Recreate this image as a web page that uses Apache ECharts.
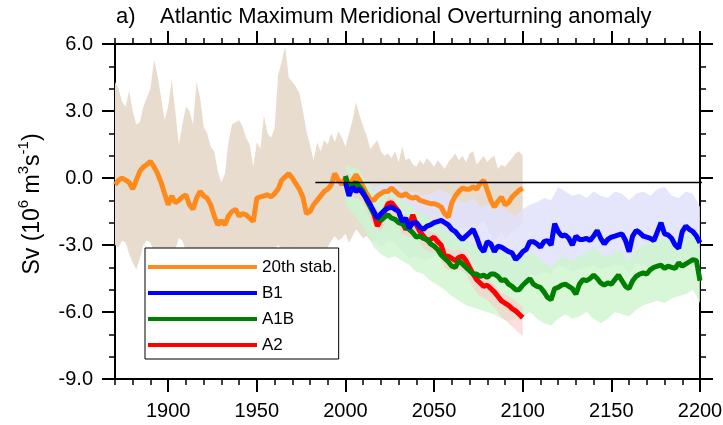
<!DOCTYPE html>
<html>
<head>
<meta charset="utf-8">
<script src="https://cdn.jsdelivr.net/npm/echarts@6/dist/echarts.min.js"></script>
<style>
  html, body { margin: 0; padding: 0; background: #fff; }
  #chart { width: 723px; height: 425px; }
</style>
</head>
<body>
<div id="chart"></div>
<script>
// ---- Time axes -------------------------------------------------------------
const stabStart = 1870, stabStep = 2;      // 20th-century stabilisation run, 1870-2100
const scenStart = 2000, scenStep = 2;      // scenario runs, 2000-2200
const bandStep = 4;                        // ensemble spread sampled every 4 years

// ---- Ensemble means (Sv) ---------------------------------------------------
const stab20 = [
  -0.3, -0.1, 0.0, -0.1, -0.2, -0.5, -0.1, 0.3, 0.5, 0.6,
  0.75, 0.5, 0.2, -0.2, -0.7, -1.2, -0.8, -1.1, -1.0, -0.85,
  -0.75, -1.2, -1.4, -0.9, -0.6, -0.8, -0.9, -1.2, -1.7, -2.1,
  -1.9, -2.1, -1.7, -1.5, -1.4, -1.7, -1.6, -1.65, -1.8, -1.95,
  -0.9, -0.85, -0.8, -0.75, -0.85, -0.7, -0.5, -0.1, 0.05, 0.2,
  0.0, -0.25, -0.5, -0.85, -1.6, -1.5, -1.2, -1.0, -0.8, -0.6,
  -0.5, -0.3, 0.2, -0.1, -0.3, 0.0, -0.3, -0.1, 0.15, -0.1,
  -0.4, -0.7, -0.95, -1.0, -0.8, -0.7, -0.6, -0.6, -0.45, -0.6,
  -0.75, -0.8, -0.7, -0.85, -0.9, -0.85, -1.0, -1.05, -1.1, -1.15,
  -1.15, -1.2, -1.3, -1.6, -1.75, -1.1, -0.8, -0.6, -0.45, -0.5,
  -0.5, -0.4, -0.5, -0.25, -0.1, -0.55, -1.0, -1.3, -1.05, -0.85,
  -1.2, -1.1, -0.85, -0.7, -0.55, -0.45
];
const b1 = [
  -0.2, -0.8, -0.4, -0.6, -0.5, -0.7, -0.95, -1.2, -1.5, -1.8,
  -1.6, -1.45, -1.35, -1.3, -1.4, -1.5, -1.95, -1.8, -2.25, -2.0,
  -2.0, -2.2, -2.3, -2.15, -2.1, -2.0, -1.95, -1.9, -2.0, -2.1,
  -2.3, -2.4, -2.6, -2.75, -2.6, -2.45, -2.3, -2.65, -3.1, -3.3,
  -2.85, -2.95, -3.3, -3.05, -3.1, -3.2, -3.3, -3.35, -3.65, -3.5,
  -3.3, -3.2, -2.85, -2.85, -2.95, -3.1, -2.85, -2.8, -3.0, -2.05,
  -2.4, -2.6, -2.55, -2.7, -3.0, -2.6, -2.75, -2.75, -2.7, -2.8,
  -2.6, -2.35, -2.7, -2.95, -2.75, -2.65, -2.6, -2.55, -2.5, -2.8,
  -3.3, -2.6, -2.35, -2.45, -2.6, -2.65, -2.7, -2.8, -2.4, -2.0,
  -2.5, -2.55, -2.7, -3.0, -3.15, -2.4, -2.15, -2.3, -2.4, -2.6,
  -2.9
];
const a1b = [
  0.1, -0.5, -0.3, -0.2, -0.4, -0.6, -1.0, -1.3, -1.6, -1.75,
  -1.9, -1.75, -1.65, -1.8, -1.85, -2.0, -2.05, -2.2, -2.3, -2.45,
  -2.65, -2.6, -2.7, -2.75, -2.95, -3.05, -3.2, -3.45, -3.6, -3.75,
  -3.95, -4.0, -3.7, -3.85, -4.0, -4.15, -4.3, -4.3, -4.4, -4.35,
  -4.45, -4.3, -4.3, -4.4, -4.6, -4.55, -4.75, -4.85, -5.0, -5.0,
  -4.8, -4.65, -4.5, -4.75, -4.85, -4.9, -5.1, -5.35, -5.45, -4.95,
  -4.9, -4.8, -4.75, -4.85, -4.95, -5.2, -4.75, -4.55, -4.6, -4.5,
  -4.35, -4.5, -4.7, -4.8, -4.7, -4.75, -4.55, -4.35, -4.6, -4.85,
  -4.95, -4.6, -4.4, -4.3, -4.25, -4.3, -4.1, -4.0, -3.95, -3.9,
  -4.05, -3.95, -4.0, -4.05, -3.8, -3.95, -3.85, -3.75, -3.65, -3.7,
  -4.6
];
const a2 = [
  0.0, -0.6, -0.3, -0.5, -0.4, -0.7, -0.9, -1.2, -1.6, -2.15,
  -1.85, -1.5, -1.15, -1.1, -1.3, -1.5, -1.95, -2.3, -2.1, -1.65,
  -2.1, -2.4, -2.6, -2.8, -2.75, -2.65, -2.85, -3.0, -3.5, -3.5,
  -3.6, -3.7, -3.55, -3.5, -3.7, -4.0, -4.3, -4.55, -4.7, -4.85,
  -4.8, -4.95, -5.1, -5.3, -5.5, -5.6, -5.7, -5.85, -5.95, -6.1,
  -6.25
];

// ---- Ensemble spread (upper / lower envelopes, Sv) -------------------------
const stab20Hi = [
  4.3, 4.0, 3.4, 3.2, 3.9, 3.0, 2.4, 2.5, 3.2, 3.6,
  4.0, 5.3, 4.6, 3.6, 2.6, 3.2, 4.4, 3.0, 1.5, 2.4,
  3.2, 3.0, 2.4, 4.3, 3.6, 2.3, 2.0, 1.4, 1.2, 0.3,
  -0.2, 0.2, 1.6, 2.4, 2.5, 2.6, 2.3, 1.8, 1.5, 0.5,
  1.6, 1.3, 2.8, 2.0, 1.8, 2.2, 4.6, 5.2, 5.9, 4.5,
  4.3, 4.1, 3.8, 3.0, 2.1, 1.5, 0.8, 1.6, 1.2, 1.7,
  1.5, 2.0, 1.6, 2.1, 1.8, 1.4, 2.0, 2.6, 3.4, 2.8,
  2.3, 1.9, 1.3, 1.5, 1.7, 1.2, 1.0, 1.1, 0.9, 1.2,
  0.7, 1.4, 0.8, 0.9, 0.6, 0.5, 0.8, 0.6, 0.9, 0.7,
  0.5, 0.8, 0.6, 0.4, 0.7, 0.9, 1.1, 0.8, 1.0, 0.7,
  1.1, 1.2, 0.6, 0.8, 1.0, 0.7, 0.9, 1.0, 0.4, 0.6,
  0.5, 0.7, 0.9, 1.1, 1.2, 1.0
];
const stab20Lo = [
  -3.0, -3.1, -2.8, -2.9, -3.4, -3.8, -4.1, -3.6, -3.0, -2.8,
  -2.9, -3.3, -3.5, -3.4, -3.6, -3.8, -3.5, -3.2, -2.7, -2.8,
  -3.3, -3.6, -3.8, -3.5, -3.3, -3.5, -3.7, -3.9, -4.3, -4.6,
  -4.5, -4.6, -4.3, -4.0, -3.8, -4.1, -4.0, -4.2, -4.3, -4.4,
  -3.5, -3.4, -3.3, -3.4, -3.5, -3.2, -3.0, -3.2, -3.3, -3.1,
  -3.2, -3.3, -3.5, -3.6, -3.9, -3.8, -3.6, -3.4, -3.3, -3.2,
  -3.1, -2.8, -2.6, -2.8, -2.7, -2.5, -2.9, -2.6, -2.3, -2.5,
  -2.7, -2.6, -2.8, -2.9, -2.7, -2.5, -2.3, -2.4, -2.2, -2.4,
  -2.5, -2.6, -2.4, -2.6, -2.4, -2.5, -2.6, -2.7, -2.8, -2.9,
  -2.9, -2.8, -3.0, -3.2, -3.3, -2.8, -2.5, -2.3, -2.2, -2.3,
  -2.2, -2.0, -2.2, -2.0, -1.9, -2.2, -2.6, -2.8, -2.6, -2.4,
  -2.7, -2.6, -2.4, -2.3, -2.2, -2.0
];
const b1Hi = [
  0.3, 0.4, 0.2, -0.2, -0.4, -0.3, -0.2, -0.3, -0.5, -0.6,
  -0.6, -0.8, -0.7, -0.5, -0.6, -0.8, -1.0, -1.1, -0.9, -1.3,
  -1.2, -1.4, -1.3, -1.5, -1.7, -1.4, -1.2, -1.1, -0.9, -1.0,
  -0.4, -0.6, -0.8, -0.7, -0.9, -0.6, -0.8, -0.9, -0.6, -0.7,
  -1.0, -0.7, -0.6, -0.8, -0.5, -0.4, -0.8, -0.9, -0.6, -0.7,
  -1.3
];
const b1Lo = [
  -1.0, -1.4, -1.7, -2.2, -2.8, -3.1, -2.8, -2.9, -3.3, -3.6,
  -3.5, -3.7, -3.6, -3.4, -3.5, -3.7, -4.0, -4.1, -3.8, -4.3,
  -4.2, -4.5, -4.4, -4.6, -4.9, -4.6, -4.3, -4.4, -4.2, -4.3,
  -3.9, -4.0, -4.2, -4.1, -4.0, -3.9, -4.1, -4.0, -3.9, -3.9,
  -4.3, -3.8, -3.9, -4.0, -3.8, -3.7, -3.9, -4.2, -3.7, -3.8,
  -4.2
];
const a1bHi = [
  0.6, 0.5, 0.3, -0.2, -0.6, -0.8, -0.7, -0.8, -1.0, -1.2,
  -1.5, -1.6, -1.8, -2.1, -2.3, -2.6, -2.5, -2.7, -3.0, -3.1,
  -3.2, -3.1, -3.3, -3.5, -3.7, -3.6, -3.3, -3.5, -3.8, -4.0,
  -3.6, -3.5, -3.7, -3.5, -3.3, -3.1, -3.4, -3.5, -3.3, -3.3,
  -3.7, -3.2, -3.0, -2.9, -2.7, -2.8, -2.8, -2.6, -2.6, -2.5,
  -3.2
];
const a1bLo = [
  -1.2, -1.6, -2.0, -2.5, -3.1, -3.4, -3.6, -3.5, -3.7, -3.9,
  -4.2, -4.3, -4.6, -4.8, -5.0, -5.3, -5.5, -5.7, -5.8, -5.9,
  -6.0, -6.1, -6.3, -6.4, -6.3, -6.2, -6.0, -6.3, -6.5, -6.6,
  -6.3, -6.1, -6.3, -6.2, -6.0, -6.3, -6.5, -6.3, -6.0, -6.1,
  -6.2, -5.9, -5.7, -5.6, -5.5, -5.6, -5.4, -5.3, -5.2, -5.0,
  -5.6
];
const a2Hi = [
  0.35, 0.05, -0.05, -0.55, -1.25, -1.5, -0.8, -0.95, -1.6, -1.75,
  -1.75, -2.25, -2.4, -2.5, -3.15, -3.25, -3.2, -3.35, -3.95, -4.35,
  -4.45, -4.75, -5.15, -5.3, -5.5, -5.8
];
const a2Lo = [
  -0.55, -0.85, -0.95, -1.45, -2.15, -2.4, -1.7, -1.85, -2.5, -2.65,
  -2.65, -3.15, -3.3, -3.4, -4.05, -4.15, -4.1, -4.3, -4.9, -5.3,
  -5.45, -5.8, -6.2, -6.5, -6.8, -7.1
];

// ---- Reference level (control mean) and tick labels ------------------------
const refYears = [1983, 2205];
const refValue = -0.2;
const xTickLabels = [1900, 1950, 2000, 2050, 2100, 2150, 2200];

// ---- Colours ---------------------------------------------------------------
const C = {
  stab: '#ff8a1c', b1: '#0000ff', a1b: '#008000', a2: '#ff0000',
  stabBand: '#e8dccf', b1Band: 'rgba(224,224,250,0.85)',
  a1bBand: 'rgba(205,245,205,0.8)', a2Band: 'rgba(250,200,200,0.6)'
};
const FONT = '"Liberation Sans", Arial, Helvetica, sans-serif';

function pairs(start, step, vals) {
  return vals.map((v, i) => [start + i * step, v]);
}

// Shaded envelope drawn as one polygon: along the upper edge, back along the lower.
function band(id, start, step, lo, hi, color) {
  const upper = pairs(start, step, hi);
  const lower = pairs(start, step, lo).reverse();
  return {
    type: 'custom', name: id, silent: true, z: 1, clip: true,
    data: [[start, hi[0]]],
    renderItem: function (params, api) {
      const pts = upper.concat(lower).map(p => api.coord(p));
      return { type: 'polygon', shape: { points: pts }, style: { fill: color } };
    }
  };
}

function meanLine(name, start, step, vals, color) {
  return {
    type: 'line', name: name, data: pairs(start, step, vals), symbol: 'none',
    lineStyle: { color: color, width: 5 }, itemStyle: { color: color }, z: 3
  };
}

const axisLineStyle = { color: '#000', width: 2 };
const tickStyle = { color: '#000', width: 1.5 };

function xAxisPair(position, withLabels) {
  return [
    {
      type: 'value', position: position, min: 1870, max: 2200, interval: 10,
      axisLine: { show: true, onZero: false, lineStyle: axisLineStyle },
      axisTick: { show: true, length: 6, lineStyle: tickStyle },
      axisLabel: withLabels ? {
        show: true, customValues: xTickLabels, margin: 22,
        fontSize: 20, color: '#000', fontFamily: FONT,
        formatter: v => String(v)
      } : { show: false },
      splitLine: { show: false }
    },
    {
      type: 'value', position: position, min: 1870, max: 2200, interval: 10,
      axisLine: { show: false, onZero: false },
      axisTick: { show: true, customValues: xTickLabels, length: 13, lineStyle: { color: '#000', width: 2 } },
      axisLabel: { show: false },
      splitLine: { show: false }
    }
  ];
}

function yAxis(position, withLabels) {
  return {
    type: 'value', position: position, min: -9, max: 6, interval: 3,
    axisLine: { show: true, onZero: false, lineStyle: axisLineStyle },
    axisTick: { show: true, length: 13, lineStyle: { color: '#000', width: 2 } },
    minorTick: { show: true, splitNumber: 3, length: 6, lineStyle: tickStyle },
    axisLabel: withLabels ? {
      show: true, margin: 22, fontSize: 20, color: '#000', fontFamily: FONT,
      formatter: v => v.toFixed(1)
    } : { show: false },
    splitLine: { show: false },
    minorSplitLine: { show: false }
  };
}

const chart = echarts.init(document.getElementById('chart'), null, { renderer: 'canvas' });

chart.setOption({
  animation: false,
  backgroundColor: '#fff',
  grid: { left: 115, right: 23, top: 44, bottom: 46, containLabel: false, outerBoundsMode: 'none' },
  xAxis: [].concat(xAxisPair('bottom', true), xAxisPair('top', false)),
  yAxis: [yAxis('left', true), yAxis('right', false)],
  legend: {
    data: ['20th stab.', 'B1', 'A1B', 'A2'],
    orient: 'vertical', left: 145, top: 248,
    icon: 'rect', itemWidth: 109, itemHeight: 4, itemGap: 8,
    padding: [10, 2, 5, 3],
    backgroundColor: '#fff', borderColor: '#000', borderWidth: 1,
    selectedMode: false,
    textStyle: { fontSize: 17, color: '#000', fontFamily: FONT, lineHeight: 18 }
  },
  graphic: [
    { type: 'text', left: 116, top: 6, style: { text: 'a)', font: '22px ' + FONT, fill: '#000' } },
    { type: 'text', left: 160, top: 6, style: { text: 'Atlantic Maximum Meridional Overturning anomaly', font: '22px ' + FONT, fill: '#000' } },
    {
      type: 'text', x: 30, y: 204, rotation: Math.PI / 2,
      style: {
        text: '{b|Sv (10}{s|6}{b| m}{s|3}{b|s}{s|-1}{b|)}',
        align: 'center', verticalAlign: 'middle', fill: '#000',
        rich: {
          b: { fontSize: 23, fontFamily: FONT, fill: '#000', lineHeight: 28, verticalAlign: 'bottom' },
          s: { fontSize: 15, fontFamily: FONT, fill: '#000', lineHeight: 28, verticalAlign: 'top' }
        }
      }
    }
  ],
  series: [
    band('stabBand', stabStart, stabStep, stab20Lo, stab20Hi, C.stabBand),
    band('b1Band', scenStart, bandStep, b1Lo, b1Hi, C.b1Band),
    band('a1bBand', scenStart, bandStep, a1bLo, a1bHi, C.a1bBand),
    band('a2Band', scenStart, bandStep, a2Lo, a2Hi, C.a2Band),
    meanLine('20th stab.', stabStart, stabStep, stab20, C.stab),
    meanLine('A2', scenStart, scenStep, a2, C.a2),
    meanLine('A1B', scenStart, scenStep, a1b, C.a1b),
    meanLine('B1', scenStart, scenStep, b1, C.b1),
    {
      type: 'line', name: 'control', data: refYears.map(y => [y, refValue]),
      symbol: 'none', clip: false, silent: true,
      lineStyle: { color: '#000', width: 1.5 }, z: 4
    }
  ]
});
</script>
</body>
</html>
